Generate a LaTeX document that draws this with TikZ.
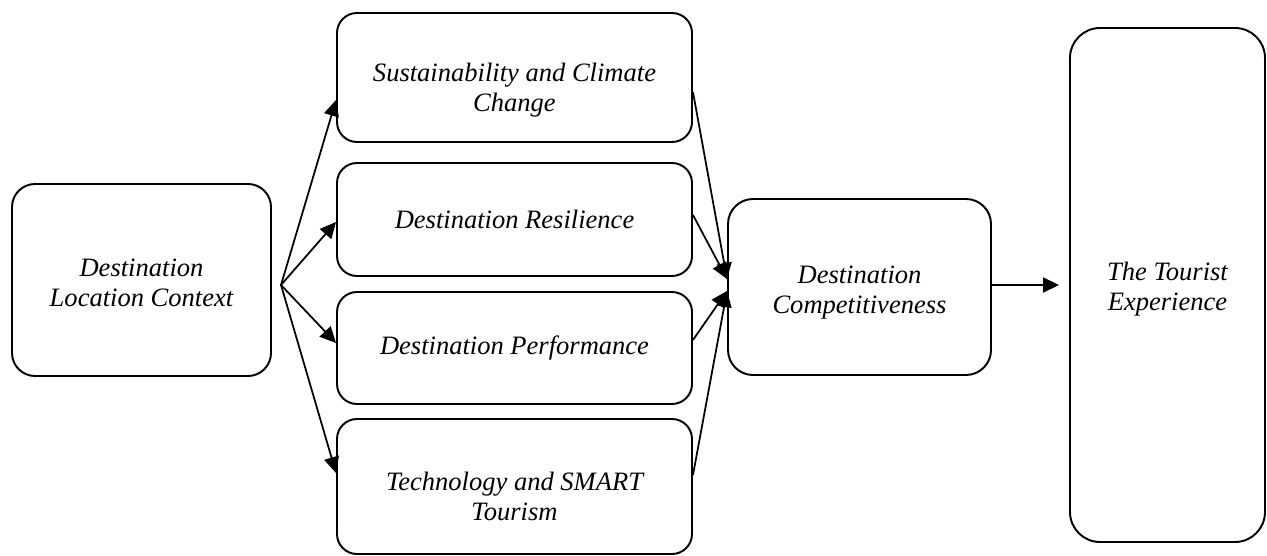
\documentclass[tikz,border=0pt]{standalone}
\usepackage{fontspec}
\setmainfont{Liberation Serif}
\usetikzlibrary{arrows.meta}

\begin{document}
\begin{tikzpicture}[
		box/.style={draw, line width=1.1pt, rounded corners=0.4cm, align=center, inner sep=0pt, font=\fontsize{15.1}{17.07}\selectfont\itshape},
		arr/.style={line width=1pt, -{Triangle[length=0.32cm, width=0.3cm]}}
	]
			\useasboundingbox (0,0) rectangle (25.34,-11.12);
			% Nodes
			\node[box, minimum width=5.18cm, minimum height=3.84cm, rounded corners=0.46cm, text height=30pt] (ctx) at (2.83,-5.60) {Destination\\Location Context};
			\node[box, minimum width=7.10cm, minimum height=2.58cm, text height=42pt] (sus) at (10.29,-1.55) {Sustainability and Climate\\Change};
			\node[box, minimum width=7.10cm, minimum height=2.26cm] (res) at (10.29,-4.39) {Destination Resilience};
			\node[box, minimum width=7.10cm, minimum height=2.24cm] (perf) at (10.29,-6.96) {Destination Performance};
			\node[box, minimum width=7.10cm, minimum height=2.70cm, text height=39pt] (tech) at (10.29,-9.73) {Technology and SMART\\Tourism};
			\node[box, minimum width=5.26cm, minimum height=3.52cm, rounded corners=0.5cm, text height=33pt] (comp) at (17.19,-5.74) {Destination\\Competitiveness};
			\node[box, minimum width=3.90cm, minimum height=10.28cm, rounded corners=0.6cm, text height=32pt] (tour) at (23.35,-5.70) {The Tourist\\Experience};
			\coordinate (fork) at (5.62,-5.70);
			% Arrows
			\foreach \n/\s in {sus/-0.45, res/-0.05, perf/0.10, tech/0.27} {
				\draw[arr] (fork) -- ([yshift=\s cm]\n.west);
			}
			\draw[arr] ([yshift=-0.29cm]sus.east) -- ([yshift=0.16cm]comp.west);
			\draw[arr] ([yshift=0.09cm]res.east) -- ([yshift=0.16cm]comp.west);
			\draw[arr] ([yshift=0.16cm]perf.east) -- ([yshift=-0.08cm]comp.west);
			\draw[arr] ([yshift=0.23cm]tech.east) -- ([yshift=-0.08cm]comp.west);
			\draw[arr, shorten >=0.2cm] ([yshift=0.04cm]comp.east) -- (tour.west);
		\end{tikzpicture}
\end{document}
